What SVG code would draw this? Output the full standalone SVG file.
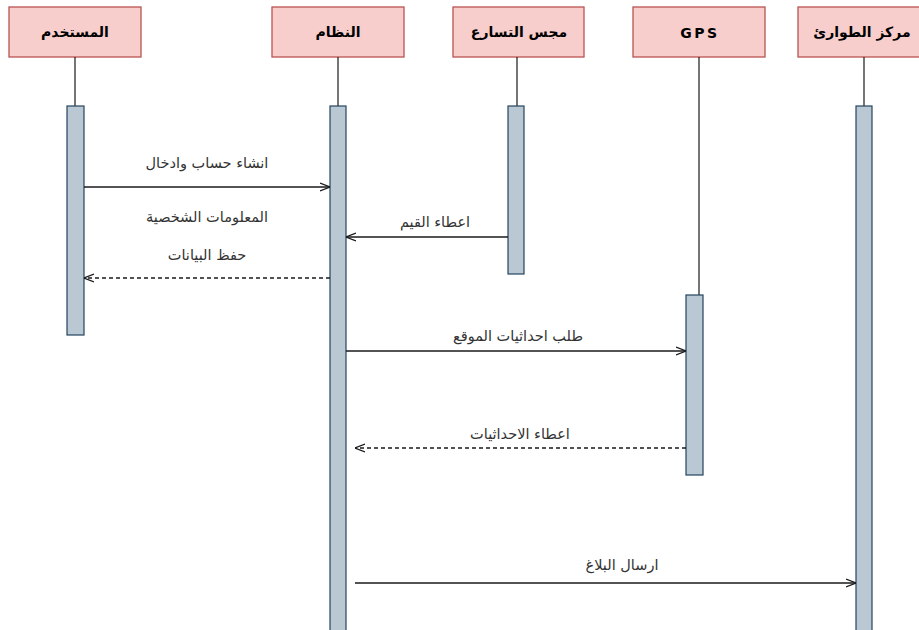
<svg xmlns="http://www.w3.org/2000/svg" width="919" height="630" viewBox="0 0 919 630">
<defs>
<style>
.hdr{fill:#f8cecc;stroke:#b85450;stroke-width:1.3}
.ht{font-family:"DejaVu Sans",sans-serif;font-size:14px;font-weight:bold;fill:#000;text-anchor:middle}
.life{stroke:#1a1a1a;stroke-width:1.2}
.bar{fill:#bac8d3;stroke:#23445d;stroke-width:1.2}
.msg{stroke:#1a1a1a;stroke-width:1.3;fill:none}
.dash{stroke-dasharray:4 3}
.lt{font-family:"DejaVu Sans",sans-serif;font-size:14.5px;fill:#333;text-anchor:middle}
</style>
<marker id="open" viewBox="0 0 10 10" refX="10" refY="5" markerWidth="10" markerHeight="10" markerUnits="userSpaceOnUse" orient="auto">
<path d="M0,1 L10,5 L0,9" fill="none" stroke="#1a1a1a" stroke-width="1.3"/>
</marker>
</defs>
<rect width="919" height="630" fill="#fff"/>
<g id="user">
<rect class="hdr" x="9" y="7" width="132" height="50"/>
<text class="ht" x="75" y="37" direction="rtl">المستخدم</text>
<line class="life" x1="75" y1="57" x2="75" y2="106"/>
<rect class="bar" x="67" y="106" width="17" height="229"/>
</g>
<g id="system">
<rect class="hdr" x="272" y="7" width="132" height="50"/>
<text class="ht" x="338" y="37" direction="rtl">النظام</text>
<line class="life" x1="338" y1="57" x2="338" y2="106"/>
<rect class="bar" x="330" y="106" width="16" height="530"/>
</g>
<g id="sensor">
<rect class="hdr" x="453" y="7" width="131" height="50"/>
<text class="ht" x="519" y="37" direction="rtl">مجس التسارع</text>
<line class="life" x1="517" y1="57" x2="517" y2="106"/>
<rect class="bar" x="508" y="106" width="16" height="168"/>
</g>
<g id="gps">
<rect class="hdr" x="633" y="7" width="132" height="50"/>
<text class="ht" x="700" y="38" font-size="16" letter-spacing="2.5">GPS</text>
<line class="life" x1="699" y1="57" x2="699" y2="295"/>
<rect class="bar" x="686" y="295" width="17" height="180"/>
</g>
<g id="emergency">
<rect class="hdr" x="798" y="7" width="132" height="50"/>
<text class="ht" x="862" y="37" direction="rtl">مركز الطوارئ</text>
<line class="life" x1="864" y1="57" x2="864" y2="106"/>
<rect class="bar" x="856" y="106" width="16" height="530"/>
</g>
<g id="connectors">
<line class="msg" x1="84" y1="187" x2="330" y2="187" marker-end="url(#open)"/>
<text class="lt" x="207" y="168" direction="rtl">انشاء حساب وادخال</text>
<text class="lt" x="207" y="222" direction="rtl">المعلومات الشخصية</text>
<line class="msg" x1="508" y1="237" x2="346" y2="237" marker-end="url(#open)"/>
<text class="lt" x="435" y="227" direction="rtl">اعطاء القيم</text>
<line class="msg dash" x1="330" y1="278" x2="84" y2="278" marker-end="url(#open)"/>
<text class="lt" x="207" y="260" direction="rtl">حفظ البيانات</text>
<line class="msg" x1="346" y1="351" x2="686" y2="351" marker-end="url(#open)"/>
<text class="lt" x="518" y="341" direction="rtl">طلب احداثيات الموقع</text>
<line class="msg dash" x1="686" y1="448" x2="355" y2="448" marker-end="url(#open)"/>
<text class="lt" x="520" y="439" direction="rtl">اعطاء الاحداثيات</text>
<line class="msg" x1="355" y1="583" x2="856" y2="583" marker-end="url(#open)"/>
<text class="lt" x="622" y="570" direction="rtl">ارسال البلاغ</text>
</g>
</svg>
